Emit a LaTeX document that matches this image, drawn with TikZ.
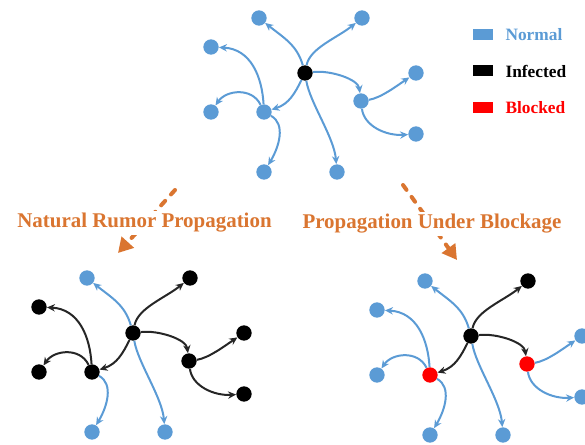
\documentclass[tikz,border=0pt]{standalone}
\usepackage{fontspec}
\setmainfont{Liberation Serif}
\usetikzlibrary{arrows.meta,positioning}

\definecolor{nblue}{RGB}{91,155,213}
\definecolor{bred}{RGB}{255,0,0}
\definecolor{rorange}{RGB}{218,117,48}

\tikzset{
  vert/.style={circle, inner sep=0pt, minimum size=11.5pt},
  normal/.style={vert, fill=nblue},
  infected/.style={vert, fill=black},
  blocked/.style={vert, fill=bred},
  spread/.style={line width=1.5pt, -{Stealth[length=6pt,width=5.5pt]}},
  spreadn/.style={spread, draw=nblue},
  spreadi/.style={spread, draw=black!85},
  legbox/.style={inner sep=0pt, minimum width=15pt, minimum height=8.25pt},
  legtext/.style={inner sep=0pt, font=\fontsize{13}{15}\selectfont\bfseries},
  phase/.style={fill=white, inner sep=2pt, text=rorange, font=\fontsize{15.7}{18}\selectfont\bfseries},
  phasearrow/.style={draw=rorange, line width=3pt, line cap=round, dash pattern=on 4.5pt off 6.5pt, -{Triangle[length=11pt,width=12pt]}}
}

\begin{document}
\begin{tikzpicture}[x=0.75pt,y=0.75pt,yscale=-1,xscale=1]
\useasboundingbox (0,0) rectangle (585,445);

%Top network: all normal, one infected source
\begin{scope}[shift={(305,73)}]
\node[infected] (topC) at (0,0) {};
\node[normal] (topTL) at (-46,-55) {};
\node[normal] (topTR) at (57,-55) {};
\node[normal] (topL1) at (-94,-26) {};
\node[normal] (topA) at (-41,39) {};
\node[normal] (topL2) at (-94,39) {};
\node[normal] (topB1) at (-41,99) {};
\node[normal] (topB2) at (32,99) {};
\node[normal] (topR) at (56,28) {};
\node[normal] (topR1) at (111,0) {};
\node[normal] (topR2) at (111,61) {};
%Curve Lines
\draw[spreadn] (topC) .. controls +(-8,-28) and +(25,20) .. (topTL);
\draw[spreadn] (topC) .. controls +(5,-25) and +(-25,20) .. (topTR);
\draw[spreadn] (topC) .. controls +(-10,20) and +(25,-8) .. (topA);
\draw[spreadn] (topC) .. controls +(25,-3) and +(-3,-22) .. (topR);
\draw[spreadn] (topC) .. controls +(5,30) and +(-3,-35) .. (topB2);
\draw[spreadn] (topA) .. controls +(-2,-35) and +(40,2) .. (topL1);
\draw[spreadn] (topA) .. controls +(-12,-25) and +(15,-22) .. (topL2);
\draw[spreadn] (topA) .. controls +(22,12) and +(15,-25) .. (topB1);
\draw[spreadn] (topR) .. controls +(20,-3) and +(-18,12) .. (topR1);
\draw[spreadn] (topR) .. controls +(3,25) and +(-30,2) .. (topR2);
\end{scope}

%Legend
\node[legbox, fill=nblue] (normbox) at (483,34.5) {};
\node[legtext, text=nblue, right=9pt of normbox] (normtxt) {Normal};
\node[legbox, fill=black] (infbox) at (483,71) {};
\node[legtext, text=black, right=9pt of infbox] (inftxt) {Infected};
\node[legbox, fill=bred] (blkbox) at (483,108) {};
\node[legtext, text=bred, right=9pt of blkbox] (blktxt) {Blocked};

%Dashed arrows and phase labels
\coordinate (natS) at (175,190);
\coordinate (natE) at (118,253);
\coordinate (blkS) at (403,185);
\coordinate (blkE) at (457,260);
\draw[phasearrow] (natS) -- (natE);
\draw[phasearrow] (blkS) -- (blkE);
\node[phase] (natlbl) at (144.5,223) {Natural Rumor Propagation};
\node[phase] (blklbl) at (432,224) {Propagation Under Blockage};

%Bottom left network: natural propagation
\begin{scope}[shift={(133,333)}]
\node[infected] (natC) at (0,0) {};
\node[normal] (natTL) at (-46,-55) {};
\node[infected] (natTR) at (57,-55) {};
\node[infected] (natL1) at (-94,-26) {};
\node[infected] (natA) at (-41,39) {};
\node[infected] (natL2) at (-94,39) {};
\node[normal] (natB1) at (-41,99) {};
\node[normal] (natB2) at (32,99) {};
\node[infected] (natR) at (56,28) {};
\node[infected] (natR1) at (111,0) {};
\node[infected] (natR2) at (111,61) {};
%Curve Lines
\draw[spreadn] (natC) .. controls +(-8,-28) and +(25,20) .. (natTL);
\draw[spreadi] (natC) .. controls +(5,-25) and +(-25,20) .. (natTR);
\draw[spreadi] (natC) .. controls +(-10,20) and +(25,-8) .. (natA);
\draw[spreadi] (natC) .. controls +(25,-3) and +(-3,-22) .. (natR);
\draw[spreadn] (natC) .. controls +(5,30) and +(-3,-35) .. (natB2);
\draw[spreadi] (natA) .. controls +(-2,-35) and +(40,2) .. (natL1);
\draw[spreadi] (natA) .. controls +(-12,-25) and +(15,-22) .. (natL2);
\draw[spreadn] (natA) .. controls +(22,12) and +(15,-25) .. (natB1);
\draw[spreadi] (natR) .. controls +(20,-3) and +(-18,12) .. (natR1);
\draw[spreadi] (natR) .. controls +(3,25) and +(-30,2) .. (natR2);
\end{scope}

%Bottom right network: propagation under blockage
\begin{scope}[shift={(471,336)}]
\node[infected] (blkC) at (0,0) {};
\node[normal] (blkTL) at (-46,-55) {};
\node[infected] (blkTR) at (57,-55) {};
\node[normal] (blkL1) at (-94,-26) {};
\node[blocked] (blkA) at (-41,39) {};
\node[normal] (blkL2) at (-94,39) {};
\node[normal] (blkB1) at (-41,99) {};
\node[normal] (blkB2) at (32,99) {};
\node[blocked] (blkR) at (56,28) {};
\node[normal] (blkR1) at (111,0) {};
\node[normal] (blkR2) at (111,61) {};
%Curve Lines
\draw[spreadn] (blkC) .. controls +(-8,-28) and +(25,20) .. (blkTL);
\draw[spreadi] (blkC) .. controls +(5,-25) and +(-25,20) .. (blkTR);
\draw[spreadi] (blkC) .. controls +(-10,20) and +(25,-8) .. (blkA);
\draw[spreadi] (blkC) .. controls +(25,-3) and +(-3,-22) .. (blkR);
\draw[spreadn] (blkC) .. controls +(5,30) and +(-3,-35) .. (blkB2);
\draw[spreadn] (blkA) .. controls +(-2,-35) and +(40,2) .. (blkL1);
\draw[spreadn] (blkA) .. controls +(-12,-25) and +(15,-22) .. (blkL2);
\draw[spreadn] (blkA) .. controls +(22,12) and +(15,-25) .. (blkB1);
\draw[spreadn] (blkR) .. controls +(20,-3) and +(-18,12) .. (blkR1);
\draw[spreadn] (blkR) .. controls +(3,25) and +(-30,2) .. (blkR2);
\end{scope}

\end{tikzpicture}
\end{document}
